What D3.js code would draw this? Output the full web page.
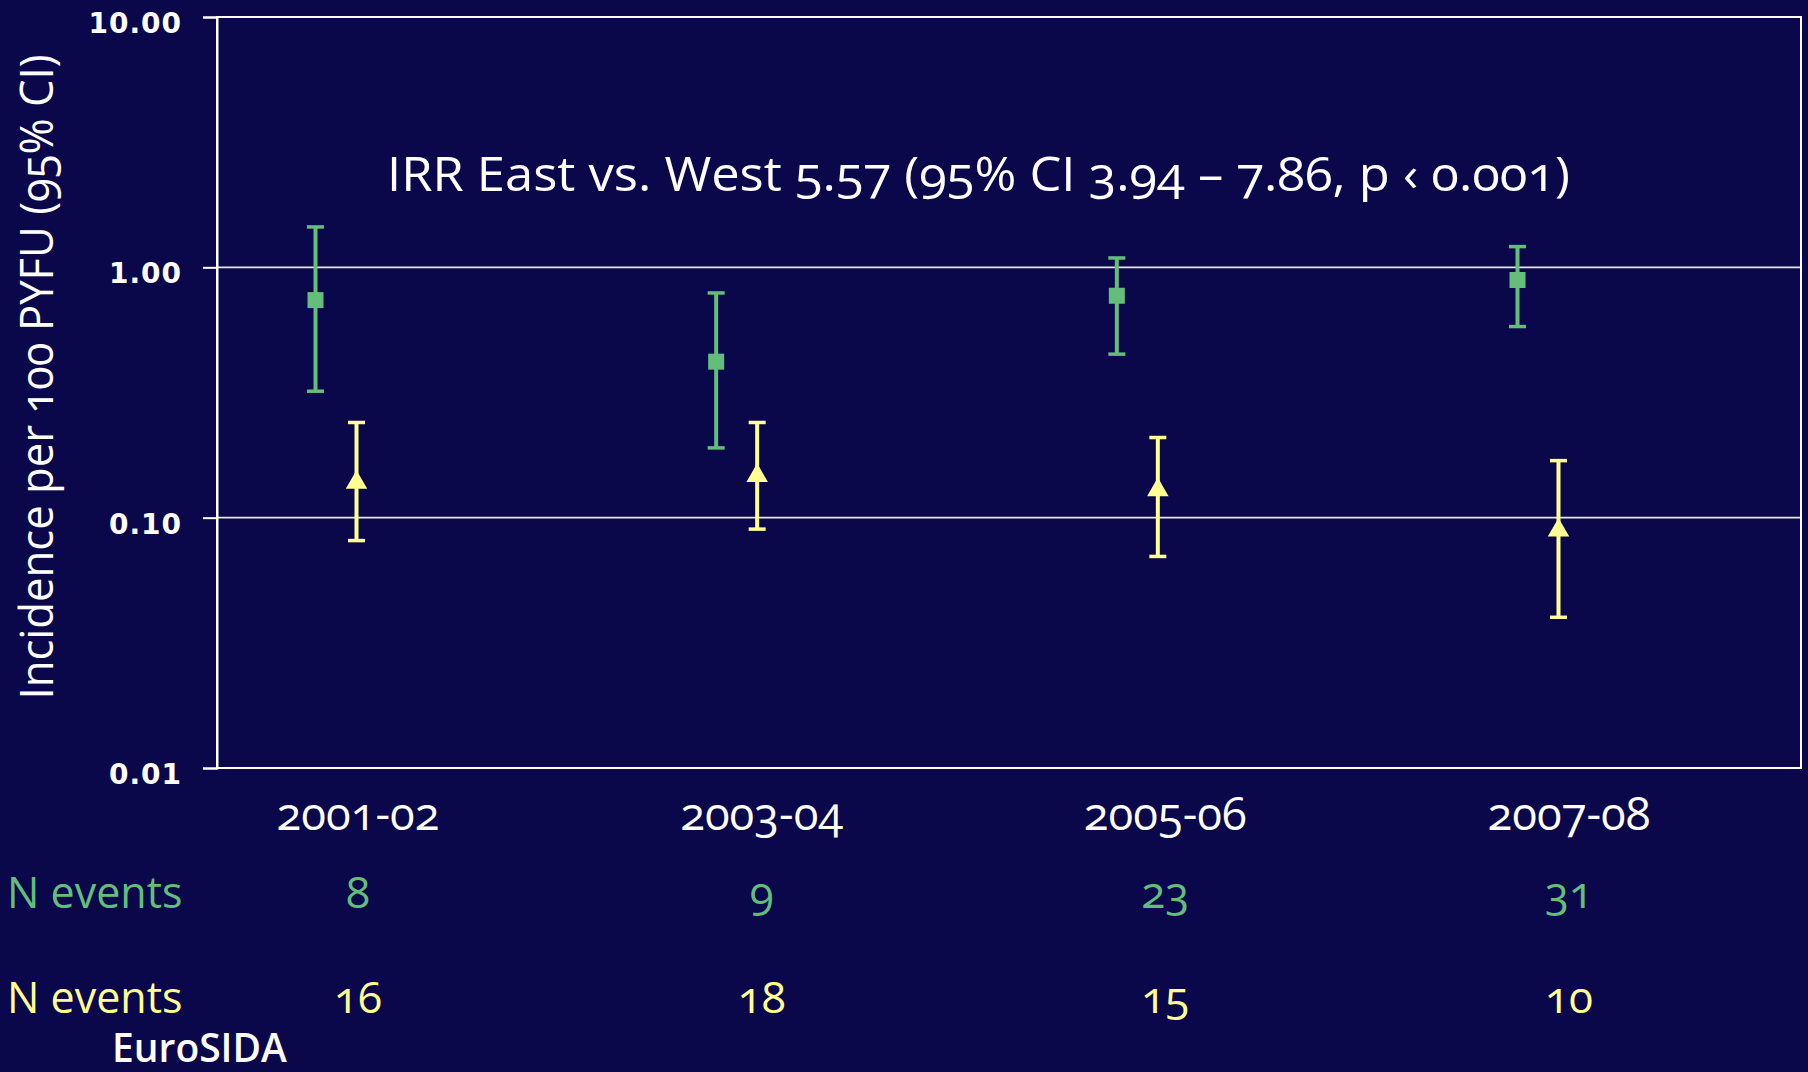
<!DOCTYPE html>
<html>
<head>
<meta charset="utf-8">
<script src="https://cdn.jsdelivr.net/npm/d3@7"></script>
<style>
  html, body { margin: 0; padding: 0; background: #0b074b; }
  svg { display: block; }
  text { font-family: "Open Sans", "Noto Sans", sans-serif; font-variant-numeric: oldstyle-nums; }
</style>
</head>
<body>
<svg id="chart" width="1808" height="1072"></svg>
<script>
// Incidence per 100 PYFU by calendar period, East (green) vs West (yellow)
const categories = ["2001-02", "2003-04", "2005-06", "2007-08"];

const eastRate = [0.74, 0.42, 0.77, 0.89];
const eastLow  = [0.32, 0.19, 0.45, 0.58];
const eastHigh = [1.45, 0.79, 1.09, 1.21];

const westRate = [0.138, 0.147, 0.129, 0.089];
const westLow  = [0.081, 0.090, 0.070, 0.040];
const westHigh = [0.240, 0.240, 0.209, 0.169];

const eastEvents = [8, 9, 23, 31];
const westEvents = [16, 18, 15, 10];

const yTickValues = [10, 1, 0.1, 0.01];
const gridValues = [1, 0.1];

const titleText = "IRR East vs. West 5.57 (95% CI 3.94 \u2013 7.86, p \u2039 0.001)";
const yAxisTitle = "Incidence per 100 PYFU (95% CI)";
const rowLabel = "N events";
const sourceText = "EuroSIDA";

const GREEN = "#62be7a";
const YELLOW = "#ffff92";
const WHITE = "#ffffff";

const W = 1808, H = 1072;
const plot = { left: 217, right: 1801, top: 17, bottom: 768 };

const svg = d3.select("#chart");

svg.append("rect").attr("width", W).attr("height", H).attr("fill", "#0b074b");

const y = d3.scaleLog().domain([0.01, 10]).range([plot.bottom, plot.top]);

// marker columns
const x = d3.scalePoint().domain(categories)
  .range([plot.left + 119, plot.left + 1321]);
const pairOffset = 20.5;

// text columns below the plot
const xt = d3.scalePoint().domain(categories)
  .range([358, 1569]);

// gridlines
svg.append("g").selectAll("line").data(gridValues).join("line")
  .attr("x1", plot.left).attr("x2", plot.right)
  .attr("y1", d => y(d)).attr("y2", d => y(d))
  .attr("stroke", "#e6e6ee").attr("stroke-width", 1.6);

// plot frame
svg.append("rect")
  .attr("x", plot.left).attr("y", plot.top)
  .attr("width", plot.right - plot.left).attr("height", plot.bottom - plot.top)
  .attr("fill", "none").attr("stroke", WHITE).attr("stroke-width", 2);

// y axis
const yAxis = svg.append("g")
  .attr("transform", `translate(${plot.left},0)`)
  .call(d3.axisLeft(y).tickValues(yTickValues).tickFormat(d3.format(".2f"))
    .tickSize(14).tickPadding(21));
yAxis.select(".domain").attr("stroke", WHITE).attr("stroke-width", 2);
yAxis.selectAll(".tick line").attr("stroke", WHITE).attr("stroke-width", 2);
yAxis.selectAll(".tick text")
  .attr("fill", WHITE)
  .attr("dy", "0.55em")
  .style("font-family", "'DejaVu Sans', sans-serif")
  .style("font-weight", 700)
  .style("font-size", "28px")
  .style("letter-spacing", "1px");

// error bars with caps
function drawSeries(rate, low, high, color, dx, shape) {
  const g = svg.append("g");
  const idx = d3.range(categories.length);
  const cx = i => x(categories[i]) + dx;
  g.selectAll("line.bar").data(idx).join("line")
    .attr("class", "bar")
    .attr("x1", cx).attr("x2", cx)
    .attr("y1", i => y(low[i])).attr("y2", i => y(high[i]))
    .attr("stroke", color).attr("stroke-width", 4);
  [low, high].forEach(arr => {
    g.selectAll(null).data(idx).join("line")
      .attr("x1", i => cx(i) - 8.5).attr("x2", i => cx(i) + 8.5)
      .attr("y1", i => y(arr[i])).attr("y2", i => y(arr[i]))
      .attr("stroke", color).attr("stroke-width", 3.5);
  });
  const sym = d3.symbol().type(shape).size(shape === d3.symbolSquare ? 256 : 200);
  g.selectAll("path").data(idx).join("path")
    .attr("transform", i => `translate(${cx(i)},${y(rate[i])})`)
    .attr("d", sym)
    .attr("fill", color);
}
drawSeries(eastRate, eastLow, eastHigh, GREEN, -pairOffset, d3.symbolSquare);
drawSeries(westRate, westLow, westHigh, YELLOW, pairOffset, d3.symbolTriangle);

// title inside the plot
svg.append("text")
  .attr("x", 387).attr("y", 191)
  .attr("fill", WHITE)
  .style("font-size", "48px")
  .attr("textLength", 1183).attr("lengthAdjust", "spacingAndGlyphs")
  .text(titleText);

// y axis title
svg.append("text")
  .attr("transform", "translate(53,377) rotate(-90)")
  .attr("text-anchor", "middle")
  .attr("fill", WHITE)
  .style("font-size", "45px")
  .attr("textLength", 645).attr("lengthAdjust", "spacingAndGlyphs")
  .text(yAxisTitle);

// period labels
svg.append("g").selectAll("text").data(categories).join("text")
  .attr("x", d => xt(d)).attr("y", 830)
  .attr("text-anchor", "middle")
  .attr("fill", WHITE)
  .style("font-size", "46px")
  .attr("textLength", 163).attr("lengthAdjust", "spacingAndGlyphs")
  .text(d => d);

// event count rows
function eventRow(counts, color, baseline) {
  svg.append("text")
    .attr("x", 7).attr("y", baseline)
    .attr("fill", color)
    .style("font-size", "43px")
    .text(rowLabel);
  svg.append("g").selectAll("text").data(counts).join("text")
    .attr("x", (d, i) => xt(categories[i])).attr("y", baseline)
    .attr("text-anchor", "middle")
    .attr("fill", color)
    .style("font-size", "44px")
    .text(d => d);
}
eventRow(eastEvents, GREEN, 908);
eventRow(westEvents, YELLOW, 1013);

// source
svg.append("text")
  .attr("x", 112).attr("y", 1062)
  .attr("fill", WHITE)
  .style("font-size", "39px")
  .style("font-weight", 600)
  .text(sourceText);
</script>
</body>
</html>
